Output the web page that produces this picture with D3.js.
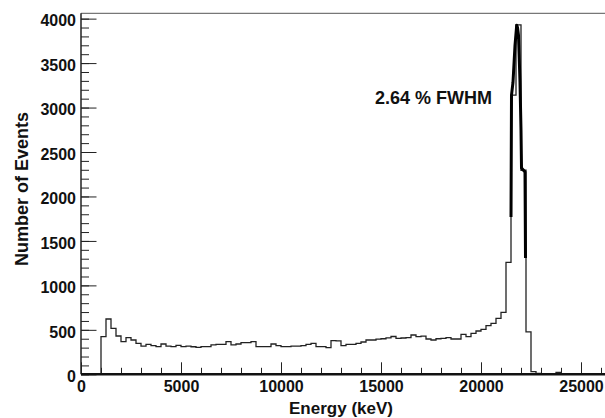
<!DOCTYPE html>
<html>
<head>
<meta charset="utf-8">
<script src="https://cdn.jsdelivr.net/npm/d3@7"></script>
<style>
  body { margin: 0; background: #fff; }
  text { font-family: "Liberation Sans", Arial, sans-serif; font-weight: bold; fill: #111; }
</style>
</head>
<body>
<div id="chart"></div>
<script>
var W = 605, H = 418;
var margin = ({top: 13.3, right: 0, bottom: 43.7, left: 81});

// histogram, 250 keV bins, value = left edge of bin
var binWidth = 250;
var binStart = [1000,1250,1500,1750,2000,2250,2500,2750,3000,3250,3500,3750,4000,4250,4500,4750,
  5000,5250,5500,5750,6000,6250,6500,6750,7000,7250,7500,7750,8000,8250,8500,8750,
  9000,9250,9500,9750,10000,10250,10500,10750,11000,11250,11500,11750,12000,12250,12500,12750,
  13000,13250,13500,13750,14000,14250,14500,14750,15000,15250,15500,15750,16000,16250,16500,16750,
  17000,17250,17500,17750,18000,18250,18500,18750,19000,19250,19500,19750,20000,20250,20500,20750,
  21000,21250,21500,21750,22000,22250,22500,22750,23000,23250,23500,23750];
var counts = [423,622,517,431,367,412,386,348,318,337,322,311,341,318,311,326,
  311,318,310,303,311,311,330,337,337,367,330,341,356,356,367,311,
  311,311,341,322,311,311,318,318,322,337,348,311,311,300,378,375,
  322,337,337,348,363,386,386,395,400,410,425,404,408,412,442,423,
  430,397,386,400,405,412,397,397,449,423,460,487,505,547,573,629,
  697,1258,3140,3930,2295,478,30,10,0,0,0,20];

// thick trace over the peak (energy, counts)
var peakE = [21500,21525,21600,21700,21785,21825,21875,21950,22000,22025,22200,22225];
var peakC = [1770,3140,3285,3700,3925,3900,3810,3285,2745,2320,2275,1308];

var xMajor = [0,5000,10000,15000,20000,25000];
var yMajor = [0,500,1000,1500,2000,2500,3000,3500,4000];
var xLabel = "Energy (keV)";
var yLabel = "Number of Events";
var note = "2.64 % FWHM";

var x = d3.scaleLinear().domain([0, 26250]).range([margin.left, 606]);
var y = d3.scaleLinear().domain([0, 4060]).range([H - margin.bottom, margin.top]);

var svg = d3.select("#chart").append("svg")
  .attr("width", W)
  .attr("height", H);

// frame
svg.append("line")
  .attr("x1", x(0)).attr("x2", W)
  .attr("y1", y(4060)).attr("y2", y(4060))
  .attr("stroke", "#555").attr("stroke-width", 1);

// minor ticks
svg.append("g")
  .attr("transform", `translate(0,${y(0)})`)
  .call(d3.axisBottom(x).tickValues(d3.range(0, 26001, 1000)).tickSize(-6.5).tickFormat(""))
  .call(g => g.select(".domain").remove())
  .call(g => g.selectAll("line").attr("stroke", "#222"));

svg.append("g")
  .attr("transform", `translate(${x(0)},0)`)
  .call(d3.axisLeft(y).tickValues(d3.range(0, 4001, 100)).tickSize(-8).tickFormat(""))
  .call(g => g.select(".domain").remove())
  .call(g => g.selectAll("line").attr("stroke", "#222"));

// major ticks + labels
svg.append("g")
  .attr("transform", `translate(0,${y(0)})`)
  .call(d3.axisBottom(x).tickValues(xMajor).tickSize(-12).tickPadding(6).tickFormat(d3.format("d")))
  .call(g => g.select(".domain").remove())
  .call(g => g.selectAll("line").attr("stroke", "#222"))
  .call(g => g.selectAll("text").attr("font-size", 16).attr("fill", "#111")
    .style("font-family", "'Liberation Sans', Arial, sans-serif").style("font-weight", "bold"));

svg.append("g")
  .attr("transform", `translate(${x(0)},0)`)
  .call(d3.axisLeft(y).tickValues(yMajor).tickSize(-15.5).tickPadding(5).tickFormat(d3.format("d")))
  .call(g => g.select(".domain").remove())
  .call(g => g.selectAll("line").attr("stroke", "#222"))
  .call(g => g.selectAll("text").attr("font-size", 16).attr("dy", "0.45em").attr("fill", "#111")
    .style("font-family", "'Liberation Sans', Arial, sans-serif").style("font-weight", "bold"));

// histogram
var pts = [[binStart[0], 0]];
binStart.forEach(function(e, i){ pts.push([e, counts[i]]); });
pts.push([binStart[binStart.length - 1] + binWidth, 0]);

var step = d3.line()
  .x(d => x(d[0]))
  .y(d => y(d[1]))
  .curve(d3.curveStepAfter);

svg.append("path")
  .datum(pts)
  .attr("fill", "none")
  .attr("stroke", "#222")
  .attr("stroke-width", 1.3)
  .attr("d", step);

// peak trace
var trace = d3.line()
  .x((d, i) => x(peakE[i]))
  .y(d => y(d));

svg.append("path")
  .datum(peakC)
  .attr("fill", "none")
  .attr("stroke", "#000")
  .attr("stroke-width", 3)
  .attr("stroke-linejoin", "round")
  .attr("d", trace);

// axis lines
svg.append("line")
  .attr("x1", x(0)).attr("x2", x(0))
  .attr("y1", y(4060)).attr("y2", y(0))
  .attr("stroke", "#222").attr("stroke-width", 1.5);
svg.append("line")
  .attr("x1", x(0)).attr("x2", W)
  .attr("y1", y(0)).attr("y2", y(0))
  .attr("stroke", "#111").attr("stroke-width", 2.5);

// titles
svg.append("text")
  .attr("x", (x(0) + W) / 2 - 2)
  .attr("y", 414)
  .attr("text-anchor", "middle")
  .attr("font-size", 17)
  .text(xLabel);

svg.append("text")
  .attr("transform", "translate(28,189) rotate(-90)")
  .attr("text-anchor", "middle")
  .attr("font-size", 18)
  .text(yLabel);

svg.append("text")
  .attr("x", 375)
  .attr("y", 104)
  .attr("font-size", 18)
  .text(note);
</script>
</body>
</html>
